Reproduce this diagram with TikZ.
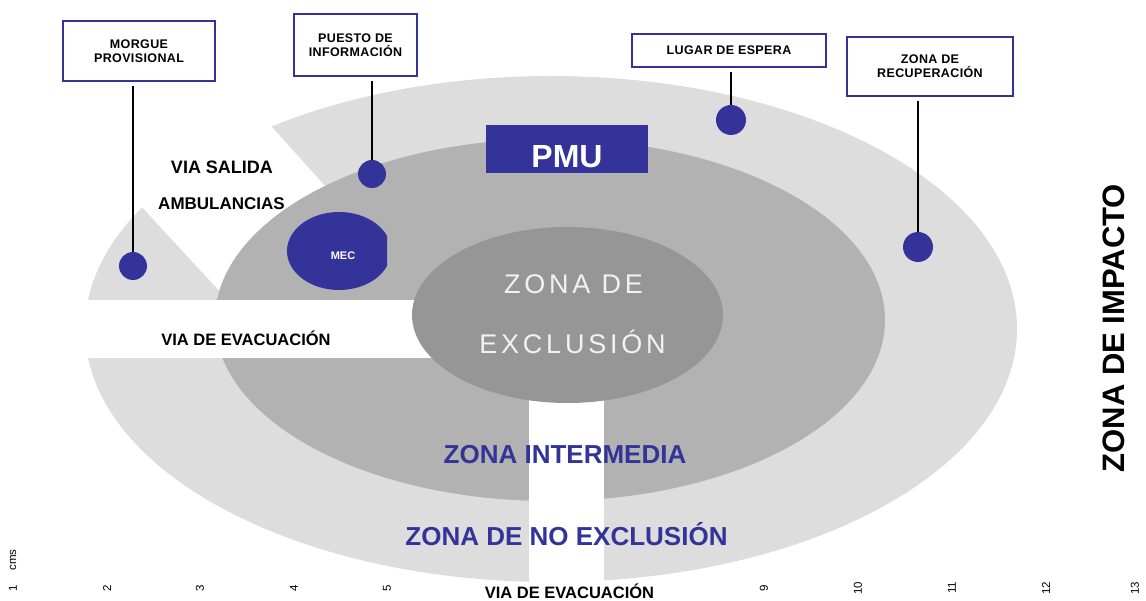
\documentclass[tikz,border=0pt]{standalone}
\usepackage{fontspec}
\setmainfont{Liberation Sans}
\newfontfamily\boxfont{Liberation Sans}[LetterSpace=3]
\newfontfamily\widefont{Liberation Sans}[LetterSpace=14]
\usetikzlibrary{positioning}
\definecolor{zblue}{HTML}{333399}
\definecolor{zlight}{HTML}{DDDDDD}
\definecolor{zmid}{HTML}{B2B2B2}
\definecolor{zinner}{HTML}{969696}

\begin{document}
\begin{tikzpicture}[x=1pt,y=-1pt,
  infobox/.style={draw=zblue,line width=2pt,fill=white,inner sep=0pt,align=center,font=\boxfont\bfseries\fontsize{12.5}{14}\selectfont},
  spot/.style={circle,fill=zblue,minimum size=28pt,inner sep=0pt},
  stem/.style={line width=2.8pt,shorten <=4pt},
  road/.style={anchor=base,font=\bfseries\fontsize{16.5}{18}\selectfont},
  zone/.style={anchor=base,text=zblue,font=\bfseries\fontsize{26}{28}\selectfont},
  core/.style={anchor=base,text=white!95!black,font=\widefont\fontsize{27}{30}\selectfont},
  tick/.style={rotate=90,font=\fontsize{11.5}{12}\selectfont}]
\useasboundingbox (0,0) rectangle (1146,601);
% zones
\fill[zlight] (551,329) ellipse [x radius=466pt, y radius=253pt];
\fill[white] (90,151) -- (250,324) -- (360,225) -- (200,47) -- cycle;
\fill[zmid] (550,320) ellipse [x radius=335pt, y radius=181pt];
\fill[white] (70,300) rectangle (440,358);
\fill[white] (529,390) rectangle (604,601);
\fill[zinner] (567.5,315) ellipse [x radius=155.5pt, y radius=88pt];
% PMU and MEC
\node[fill=zblue,minimum width=162pt,minimum height=48pt,inner sep=0pt,text height=38pt,text depth=0pt,
  text=white,font=\bfseries\fontsize{32}{34}\selectfont] (pmu) at (567,149) {PMU};
\begin{scope}
\clip (280,200) rectangle (387,300);
\fill[zblue] (339,251) ellipse [x radius=52pt, y radius=39pt];
\end{scope}
\node[text=white,font=\bfseries\fontsize{11}{12}\selectfont] (mec) at (343,256) {MEC};
% boxes and points
\node[infobox,minimum width=152pt,minimum height=60pt] (morgue) at (139,51) {MORGUE\\PROVISIONAL};
\node[infobox,minimum width=123pt,minimum height=62pt] (puesto) at (355.5,45) {PUESTO DE\\INFORMACIÓN};
\node[infobox,minimum width=194pt,minimum height=33pt] (espera) at (729,50.5) {LUGAR DE ESPERA};
\node[infobox,minimum width=166pt,minimum height=59pt] (recup) at (930,66.5) {ZONA DE\\RECUPERACIÓN};
\node[spot] (dmorgue) at (133,266) {};
\node[spot] (dpuesto) at (372,174) {};
\node[spot,minimum size=30pt] (despera) at (731,120) {};
\node[spot,minimum size=30pt] (drecup) at (918,247) {};
\draw[stem] (dmorgue |- morgue.south) -- (dmorgue);
\draw[stem] (dpuesto |- puesto.south) -- (dpuesto);
\draw[stem] (despera |- espera.south) -- (despera);
\draw[stem] (drecup |- recup.south) -- (drecup);
% texts
\node[anchor=base,font=\bfseries\fontsize{18}{20}\selectfont] (salida) at (222,173.5) {VIA SALIDA};
\node[anchor=base,font=\bfseries\fontsize{17}{20}\selectfont] (ambul) at (221.5,210) {AMBULANCIAS};
\node[road] (evacw) at (246,345.5) {VIA DE EVACUACIÓN};
\node[road,inner sep=1pt] (evacs) at (569.5,598) {VIA DE EVACUACIÓN};
\node[core] (exclA) at (573.5,294) {ZONA DE};
\node[core] (exclB) at (572.5,354) {EXCLUSIÓN};
\node[zone] (interm) at (565,464) {ZONA INTERMEDIA};
\node[zone] (noexcl) at (566.5,545) {ZONA DE NO EXCLUSIÓN};
\node[rotate=90,font=\bfseries\fontsize{31}{33}\selectfont] (impacto) at (1114,328) {ZONA DE IMPACTO};
% scale
\node[tick] (cms) at (13,560) {cms};
\foreach \n/\px in {1/13,2/107,3/200,4/294,5/387,9/764,10/858,11/952,12/1046,13/1135}
  \node[tick] (tick\n) at (\px,588) {\n};
\end{tikzpicture}
\end{document}
